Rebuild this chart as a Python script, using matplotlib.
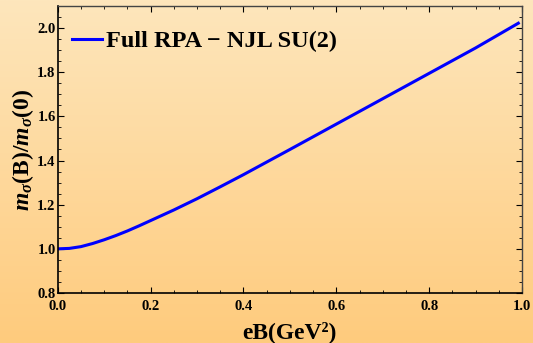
import numpy as np
import matplotlib
matplotlib.use('Agg')
import matplotlib.pyplot as plt
from matplotlib.ticker import MultipleLocator

# data
eB = [0.0, 0.025, 0.05, 0.075, 0.1, 0.125, 0.15, 0.175, 0.2, 0.25, 0.3, 0.35,
      0.4, 0.45, 0.5, 0.6, 0.7, 0.8, 0.9, 0.992]
ratio = [1.0, 1.002, 1.01, 1.024, 1.041, 1.06, 1.081, 1.104, 1.128, 1.176, 1.227, 1.281,
         1.336, 1.393, 1.45, 1.565, 1.68, 1.795, 1.91, 2.022]
legend_label = 'Full RPA \u2212 NJL SU(2)'

plt.rcParams['font.family'] = 'Liberation Serif'
plt.rcParams['font.weight'] = 'bold'
plt.rcParams['mathtext.fontset'] = 'custom'
plt.rcParams['mathtext.rm'] = 'Liberation Serif:bold'
plt.rcParams['mathtext.it'] = 'Liberation Serif:italic:bold'
plt.rcParams['mathtext.bf'] = 'Liberation Serif:bold'

fig = plt.figure(figsize=(5.33, 3.43), dpi=100)

# background gradient over the whole figure
bg = fig.add_axes([0, 0, 1, 1], zorder=-10)
top = np.array([253, 230, 188]) / 255
bot = np.array([255, 203, 125]) / 255
t = np.linspace(0, 1, 256)[:, None]
grad = top[None, :] * (1 - t) + bot[None, :] * t
bg.imshow(grad[:, None, :], aspect='auto', extent=[0, 1, 0, 1])
bg.axis('off')

ax = fig.add_axes([0.1083, 0.1458, 0.8711, 0.8367])
ax.set_facecolor('none')
ax.plot(eB, ratio, color='#0000ff', lw=2.2, label=legend_label)

ax.set_xlim(0, 1.0)
ax.set_ylim(0.8, 2.1)
ax.xaxis.set_major_locator(MultipleLocator(0.2))
ax.xaxis.set_minor_locator(MultipleLocator(0.05))
ax.yaxis.set_major_locator(MultipleLocator(0.2))
ax.yaxis.set_minor_locator(MultipleLocator(0.05))
ax.xaxis.set_major_formatter(plt.FormatStrFormatter('%.1f'))
ax.yaxis.set_major_formatter(plt.FormatStrFormatter('%.1f'))
ax.tick_params(which='both', direction='in', top=True, right=True, labelsize=10.5)
ax.tick_params(axis='x', pad=5)
ax.tick_params(axis='y', pad=1.5)
ax.tick_params(which='major', length=4, width=0.8)
ax.tick_params(which='minor', length=2, width=0.6)
for s in ['left', 'bottom']:
    ax.spines[s].set_linewidth(1.2)
    ax.spines[s].set_color('black')
for s in ['top', 'right']:
    ax.spines[s].set_linewidth(1.0)
    ax.spines[s].set_color('#444444')

ax.set_xlabel('eB(GeV\u00b2)', fontsize=17, fontweight='bold', labelpad=6)
ax.set_ylabel('$m_\\sigma$(B)/$m_\\sigma$(0)', fontsize=17, fontweight='bold', labelpad=1)

ax.legend(loc='upper left', frameon=False, fontsize=17.5, handlelength=1.25,
          handletextpad=0.15, borderaxespad=0.0, bbox_to_anchor=(0.01, 0.95))

fig.savefig('out.png', dpi=100)
